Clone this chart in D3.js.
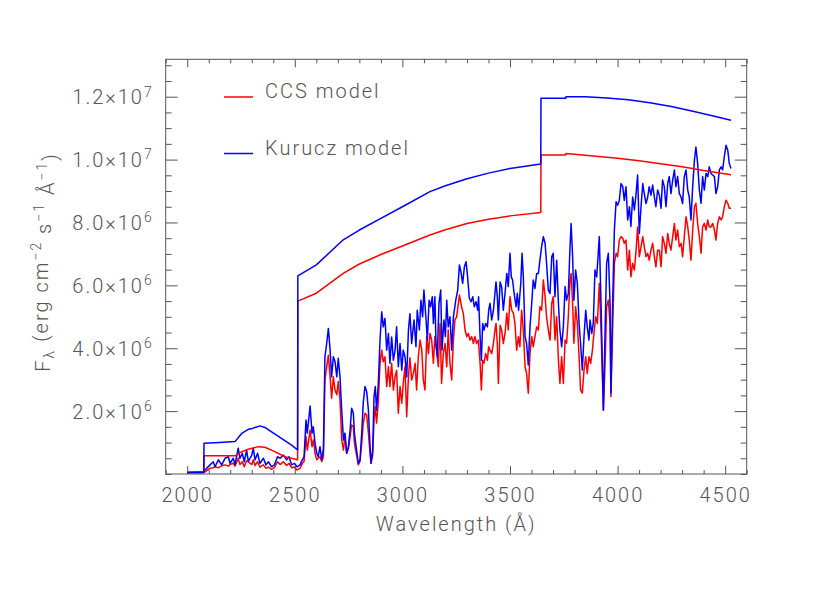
<!DOCTYPE html>
<html>
<head>
<meta charset="utf-8">
<script src="https://cdn.jsdelivr.net/npm/d3@7"></script>
<style>
  body { margin: 0; background: #fff; }
  text { font-family: Roboto, "DejaVu Sans", sans-serif; font-weight: 300; fill: #555; letter-spacing: 2px; }
</style>
</head>
<body>
<div id="chart"></div>
<script>
// flux in units of 1e6 erg cm^-2 s^-1 A^-1, wavelength in A
var ccsSpectrum = [[2000,0.05],[2075,0.05],[2083,0.07],[2106,0.18],[2121,0.20],[2129,0.23],[2145,0.20],[2160,0.26],[2176,0.29],[2191,0.25],[2199,0.30],[2214,0.34],[2222,0.25],[2237,0.50],[2245,0.30],[2256,0.39],[2265,0.23],[2276,0.42],[2284,0.39],[2300,0.30],[2307,0.45],[2315,0.27],[2327,0.39],[2338,0.22],[2354,0.29],[2366,0.18],[2377,0.22],[2392,0.15],[2405,0.20],[2420,0.39],[2432,0.30],[2447,0.39],[2462,0.27],[2473,0.34],[2485,0.20],[2498,0.22],[2510,0.13],[2524,0.18],[2535,0.34],
  [2543,0.40],[2552,1.19],[2558,0.76],[2571,1.40],[2580,0.87],[2586,1.08],[2594,0.66],[2602,0.45],[2609,0.50],[2617,0.55],[2625,0.40],[2633,0.55],[2640,2.99],[2648,3.40],[2656,3.78],[2664,3.09],[2671,2.41],[2679,3.09],[2687,2.67],[2695,2.52],[2702,2.94],[2710,2.36],[2718,1.08],[2726,0.76],[2733,1.19],[2741,0.66],[2749,0.80],[2757,1.19],[2764,1.56],[2772,1.50],[2777,0.98],[2787,0.60],[2795,0.29],[2803,0.40],[2811,0.98],[2818,1.60],[2826,1.93],[2834,1.88],[2842,1.30],[2849,0.70],[2854,0.34],[2862,0.60],[2868,1.72],[2874,2.14],[2880,1.62],[2888,2.30],[2896,3.52],[2904,3.94],[2911,3.57],[2919,3.73],[2927,2.78],[2935,3.41],[2942,2.78],[2950,3.52],[2958,2.67],[2966,3.09],[2973,3.30],[2981,1.93],[2989,2.78],[2997,2.25],[3004,2.88],[3012,3.41],[3020,1.82],[3028,3.09],[3035,3.70],
  [3043,2.99],[3051,3.20],[3059,3.52],[3066,2.67],[3074,3.73],[3082,4.26],[3090,3.94],[3097,2.99],[3105,2.67],[3113,4.37],[3121,3.83],[3128,4.47],[3136,4.26],[3144,3.52],[3151,4.37],[3159,3.94],[3167,3.41],[3175,4.79],[3182,2.88],[3190,3.83],[3198,4.15],[3206,3.41],[3213,4.58],[3221,3.52],[3229,2.99],[3237,4.26],[3244,4.90],[3252,5.00],[3265,5.69],[3275,5.32],[3283,5.11],[3291,4.58],[3299,4.37],[3306,4.47],[3314,4.26],[3322,4.37],[3330,4.15],[3337,4.37],[3345,4.15],[3353,4.26],[3361,3.52],[3367,2.67],[3373,3.62],[3379,3.52],[3387,3.83],[3395,3.62],[3401,4.05],[3407,3.94],[3415,3.83],[3423,4.15],[3430,4.58],[3435,4.79],[3441,4.15],[3446,2.88],[3454,4.73],[3461,4.58],[3469,4.15],[3477,4.47],[3485,5.11],[3492,4.58],[3500,5.64],[3508,5.21],[3516,5.11],[3523,4.79],[3531,3.94],[3539,4.37],[3546,4.05],[3554,5.21],[3562,4.58],[3570,3.41],[3577,3.20],[3585,2.57],[3593,3.83],[3601,4.37],[3608,4.05],[3616,4.37],[3624,4.68],[3632,4.58],[3639,5.32],[3647,5.21],[3655,6.17],
  [3663,5.64],[3670,5.00],[3678,4.58],[3686,4.26],[3694,5.43],[3701,5.64],[3709,4.26],[3717,5.00],[3725,3.62],[3732,2.88],[3740,3.73],[3748,2.88],[3756,4.26],[3763,4.16],[3771,5.00],[3779,6.17],[3784,6.38],[3791,5.43],[3797,4.16],[3805,5.32],[3813,4.79],[3821,3.73],[3828,2.67],[3836,2.57],[3844,3.31],[3852,3.73],[3859,3.20],[3867,3.73],[3875,3.52],[3883,3.94],[3890,4.47],[3898,5.00],[3906,4.79],[3915,6.06],[3923,4.58],[3934,2.03],[3942,3.52],[3949,5.32],[3957,5.53],[3965,4.79],[3969,2.46],[3977,4.58],[3985,6.70],[3993,7.02],[4000,6.91],[4008,7.44],[4016,7.55],[4024,7.50],[4031,7.34],[4039,7.44],[4047,6.49],[4055,7.12],[4062,6.27],[4070,6.70],[4078,6.49],[4086,7.12],[4093,7.86],[4101,6.91],[4109,7.23],[4117,7.55],[4124,7.23],[4132,6.91],[4140,7.02],[4147,6.80],[4155,7.12],[4163,7.34],[4171,6.91],[4178,6.59],[4186,7.12],[4194,7.12],[4202,6.59],[4209,7.55],[4217,7.34],[4225,7.02],[4233,7.65],[4240,7.34],[4248,7.12],[4256,7.55],[4264,7.97],[4271,7.44],[4279,7.76],[4287,7.23],[4295,7.34],[4302,6.91],[4310,7.55],[4318,8.18],[4326,7.86],[4333,7.44],[4341,6.80],[4349,7.76],[4357,8.50],[4364,8.61],[4372,7.97],[4380,7.55],[4388,7.02],[4395,7.86],[4403,7.97],[4411,7.76],[4419,8.08],[4426,7.86],[4434,7.86],[4442,7.97],[4450,7.76],[4457,7.44],[4465,7.97],[4473,8.18],[4481,8.08],[4488,8.18],[4496,8.50],[4504,8.71],[4512,8.61],[4519,8.45],[4527,8.45]];

var kuruczSpectrum = [[2000,0.05],[2075,0.07],[2083,0.13],[2106,0.29],[2121,0.39],[2129,0.23],[2145,0.45],[2160,0.29],[2176,0.50],[2191,0.55],[2199,0.34],[2214,0.50],[2222,0.29],[2237,0.82],[2245,0.50],[2256,0.66],[2265,0.39],[2276,0.76],[2284,0.40],[2300,0.60],[2307,0.82],[2315,0.45],[2327,0.66],[2338,0.34],[2354,0.50],[2366,0.29],[2377,0.39],[2392,0.23],[2405,0.29],[2420,0.55],[2432,0.50],[2447,0.60],[2462,0.45],[2473,0.55],[2485,0.29],[2498,0.34],[2510,0.23],[2524,0.29],[2535,0.45],
  [2543,0.55],[2552,1.72],[2558,1.30],[2571,2.16],[2580,1.30],[2586,1.50],[2594,0.98],[2602,0.66],[2609,0.55],[2617,0.87],[2625,0.45],[2633,0.80],[2640,3.73],[2648,4.15],[2656,4.63],[2664,3.94],[2671,3.09],[2679,3.73],[2687,3.57],[2695,3.09],[2702,3.68],[2710,3.09],[2718,2.03],[2726,1.08],[2733,1.30],[2741,0.66],[2749,0.87],[2757,1.40],[2764,2.09],[2772,1.93],[2777,1.30],[2787,0.76],[2795,0.34],[2803,0.45],[2811,1.30],[2818,2.25],[2826,2.78],[2834,2.62],[2842,2.03],[2849,0.98],[2854,0.34],[2862,0.76],[2868,2.46],[2874,2.78],[2880,2.03],[2888,2.88],[2896,4.26],[2904,5.16],[2911,4.68],[2919,4.95],[2927,3.94],[2935,4.47],[2942,3.52],[2950,4.36],[2958,3.62],[2966,3.94],[2973,4.68],[2981,3.41],[2989,4.15],[2997,3.30],[3004,3.94],[3012,3.73],[3020,3.09],[3028,4.57],[3035,5.10],
  [3043,4.15],[3054,4.90],[3063,4.05],[3069,5.21],[3079,4.58],[3086,5.53],[3094,5.00],[3100,5.85],[3110,4.90],[3116,4.26],[3124,5.53],[3131,5.32],[3139,5.64],[3144,4.79],[3151,5.64],[3156,4.15],[3162,3.73],[3170,5.43],[3178,5.85],[3184,3.94],[3193,4.90],[3200,4.37],[3206,5.53],[3213,4.68],[3221,5.00],[3229,3.94],[3237,5.00],[3248,5.53],[3257,5.85],[3265,6.65],[3272,6.43],[3280,6.06],[3288,6.59],[3296,6.75],[3303,6.27],[3311,5.59],[3319,5.48],[3327,5.64],[3334,5.32],[3342,5.48],[3350,5.21],[3354,5.64],[3361,4.37],[3367,3.62],[3373,4.79],[3379,4.58],[3387,4.79],[3395,4.68],[3401,5.21],[3407,5.43],[3415,4.90],[3423,5.21],[3430,5.75],[3435,6.11],[3441,5.64],[3446,4.90],[3454,6.11],[3461,5.96],[3469,5.21],[3477,5.75],[3485,6.38],[3492,5.96],[3500,7.02],[3506,6.27],[3512,6.17],[3519,5.75],[3528,5.32],[3534,5.75],[3540,5.21],[3550,6.06],[3556,7.02],[3562,6.27],[3570,4.37],[3577,4.15],[3585,3.47],[3593,4.68],[3601,5.43],[3608,6.17],[3616,5.90],[3624,6.38],[3632,6.38],[3639,6.80],[3647,7.23],[3655,7.55],
  [3663,7.34],[3670,6.70],[3678,5.85],[3686,5.74],[3694,6.91],[3701,7.02],[3709,5.64],[3717,6.80],[3725,5.43],[3732,4.58],[3740,4.05],[3748,4.68],[3756,5.96],[3763,5.53],[3771,5.74],[3779,7.23],[3784,7.97],[3791,6.91],[3797,5.53],[3805,6.49],[3813,6.06],[3821,4.79],[3828,4.15],[3836,3.31],[3844,4.37],[3852,5.21],[3859,4.68],[3867,4.26],[3872,4.90],[3880,4.47],[3887,4.79],[3895,6.49],[3903,6.27],[3915,7.55],[3923,5.43],[3934,2.03],[3942,4.58],[3949,6.70],[3957,7.02],[3965,5.43],[3969,2.57],[3977,5.43],[3985,7.76],[3993,8.66],[4000,8.55],[4008,8.70],[4016,9.24],[4024,9.14],[4031,8.70],[4039,9.14],[4047,8.08],[4055,8.50],[4062,7.87],[4070,8.81],[4078,8.40],[4086,8.92],[4093,9.51],[4101,7.65],[4109,8.50],[4117,9.24],[4124,8.92],[4132,8.60],[4140,8.81],[4147,9.14],[4155,8.87],[4163,9.19],[4171,8.81],[4178,8.50],[4186,9.03],[4194,8.87],[4202,8.45],[4209,9.35],[4217,9.14],[4225,8.50],[4233,9.24],[4240,9.46],[4248,8.92],[4256,9.35],[4264,9.67],[4271,9.14],[4279,9.46],[4287,8.92],[4295,8.81],[4302,8.60],[4310,9.46],[4318,9.67],[4326,9.03],[4333,8.81],[4341,8.08],[4349,9.14],[4357,9.98],[4364,10.40],[4372,9.88],[4380,9.03],[4388,8.61],[4395,9.46],[4403,9.03],[4411,9.56],[4419,9.46],[4426,9.77],[4434,9.56],[4442,9.51],[4450,9.46],[4457,8.92],[4465,9.14],[4473,9.67],[4481,9.77],[4488,9.67],[4496,10.09],[4504,10.46],[4512,10.30],[4519,9.88],[4527,9.72]];

var ccsContinuum = [[2000,0.05],[2077,0.05],[2078,0.58],[2222,0.58],[2253,0.71],[2284,0.79],[2330,0.87],[2361,0.85],[2407,0.71],[2454,0.55],[2513,0.45],[2514,5.50],[2600,5.75],[2725,6.38],[2800,6.68],[2900,6.98],[3000,7.25],[3128,7.60],[3200,7.77],[3300,7.97],[3400,8.10],[3500,8.21],[3643,8.32],[3644,10.15],[3759,10.15],[3760,10.19],[3900,10.11],[4000,10.04],[4100,9.96],[4200,9.87],[4300,9.77],[4400,9.65],[4527,9.52]];

var kuruczContinuum = [[2000,0.05],[2077,0.05],[2078,0.98],[2150,1.00],[2222,1.03],[2253,1.29],[2284,1.42],[2303,1.45],[2315,1.48],[2338,1.53],[2361,1.48],[2392,1.34],[2438,1.13],[2485,0.92],[2513,0.77],[2514,6.30],[2600,6.65],[2725,7.45],[2800,7.76],[2900,8.13],[3000,8.50],[3128,8.98],[3200,9.17],[3300,9.39],[3400,9.57],[3500,9.72],[3643,9.86],[3644,11.95],[3759,11.95],[3760,12.00],[3850,12.00],[3950,11.96],[4050,11.90],[4150,11.81],[4250,11.69],[4350,11.54],[4450,11.38],[4527,11.25]];

var xMajor = [2000, 2500, 3000, 3500, 4000, 4500];
var yMajor = [2, 4, 6, 8, 10, 12];
var yMantissa = ["2.0", "4.0", "6.0", "8.0", "1.0", "1.2"];
var yExponent = ["6", "6", "6", "6", "7", "7"];
var legendNames = ["CCS model", "Kurucz model"];
var seriesColors = ["#ff0000", "#0000ff"];

var svgWidth = 830;
var svgHeight = 593;
var plotLeft = 165.7, plotRight = 746.7, plotTop = 59.3, plotBottom = 474;

var x = d3.scaleLinear().domain([1900, 4600]).range([plotLeft, plotRight]);
var y = d3.scaleLinear().domain([0, 13.19]).range([plotBottom, plotTop]);

var xMinor = d3.range(1900, 4601, 100).filter(function (d) { return xMajor.indexOf(d) < 0; });
var yMinor = d3.range(0, 13.2, 0.5).filter(function (d) { return yMajor.indexOf(d) < 0; });

var svg = d3.select("#chart")
    .append("svg")
    .attr("width", svgWidth)
    .attr("height", svgHeight);

var axisColor = "#555";

function clean(g) {
    g.select(".domain").remove();
    g.selectAll("line").attr("stroke", axisColor);
}

// bottom / top axes
svg.append("g").attr("transform", "translate(0," + plotBottom + ")")
    .call(d3.axisBottom(x).tickValues(xMinor).tickSize(-4).tickFormat(""))
    .call(clean);
var xAxis = svg.append("g").attr("transform", "translate(0," + plotBottom + ")")
    .call(d3.axisBottom(x).tickValues(xMajor).tickSize(-8).tickPadding(14).tickFormat(d3.format("d")))
    .call(clean);
xAxis.attr("font-family", null).attr("font-size", null);
xAxis.selectAll("text").attr("font-size", 20).attr("fill", "#555");

svg.append("g").attr("transform", "translate(0," + plotTop + ")")
    .call(d3.axisTop(x).tickValues(xMinor).tickSize(-4).tickFormat(""))
    .call(clean);
svg.append("g").attr("transform", "translate(0," + plotTop + ")")
    .call(d3.axisTop(x).tickValues(xMajor).tickSize(-8).tickFormat(""))
    .call(clean);

// left / right axes
svg.append("g").attr("transform", "translate(" + plotLeft + ",0)")
    .call(d3.axisLeft(y).tickValues(yMinor).tickSize(-6).tickFormat(""))
    .call(clean);
var yAxis = svg.append("g").attr("transform", "translate(" + plotLeft + ",0)")
    .call(d3.axisLeft(y).tickValues(yMajor).tickSize(-12).tickPadding(12).tickFormat(""))
    .call(clean);
yAxis.attr("font-family", null).attr("font-size", null);

yAxis.selectAll(".tick text")
    .attr("font-size", 20)
    .attr("fill", "#555")
    .attr("dy", "0.35em")
    .each(function (d, i) {
        var t = d3.select(this);
        t.append("tspan").text(yMantissa[i] + "\u00d710");
        t.append("tspan").attr("font-size", 14).attr("dy", "-0.55em").text(yExponent[i]);
    });

svg.append("g").attr("transform", "translate(" + plotRight + ",0)")
    .call(d3.axisRight(y).tickValues(yMinor).tickSize(-6).tickFormat(""))
    .call(clean);
svg.append("g").attr("transform", "translate(" + plotRight + ",0)")
    .call(d3.axisRight(y).tickValues(yMajor).tickSize(-12).tickFormat(""))
    .call(clean);

// frame
svg.append("rect")
    .attr("x", plotLeft).attr("y", plotTop)
    .attr("width", plotRight - plotLeft).attr("height", plotBottom - plotTop)
    .attr("fill", "none").attr("stroke", axisColor).attr("stroke-width", 1);

// curves
var line = d3.line()
    .x(function (d) { return x(d[0]); })
    .y(function (d) { return y(d[1]); });

var curves = [
    {data: ccsSpectrum, color: seriesColors[0]},
    {data: kuruczSpectrum, color: seriesColors[1]},
    {data: ccsContinuum, color: seriesColors[0]},
    {data: kuruczContinuum, color: seriesColors[1]}
];

svg.selectAll("path.curve")
    .data(curves)
    .enter()
    .append("path")
    .attr("class", "curve")
    .attr("d", function (d) { return line(d.data); })
    .attr("fill", "none")
    .attr("stroke", function (d) { return d.color; })
    .attr("stroke-width", 1.5)
    .attr("stroke-linejoin", "round");

// legend
var legend = svg.selectAll("g.legend")
    .data(legendNames)
    .enter()
    .append("g")
    .attr("class", "legend")
    .attr("transform", function (d, i) { return "translate(224," + (97 + i * 56.5) + ")"; });

legend.append("line")
    .attr("x1", 0).attr("x2", 29)
    .attr("stroke", function (d, i) { return seriesColors[i]; })
    .attr("stroke-width", 1.5);

legend.append("text")
    .attr("x", 41)
    .attr("y", 1)
    .attr("font-size", 20)
    .text(function (d) { return d; });

// axis titles
svg.append("text")
    .attr("x", (plotLeft + plotRight) / 2)
    .attr("y", 531)
    .attr("text-anchor", "middle")
    .attr("font-size", 20)
    .text("Wavelength (\u00c5)");

var ytitle = svg.append("text")
    .attr("transform", "translate(50,262) rotate(-90)")
    .attr("text-anchor", "middle")
    .attr("font-size", 20);

var titleParts = [
    {t: "F"}, {t: "\u03bb", s: 0.3}, {t: " (erg cm"}, {t: "\u22122", s: -0.5},
    {t: " s"}, {t: "\u22121", s: -0.5}, {t: " \u00c5"}, {t: "\u22121", s: -0.5}, {t: ")"}
];
var shift = 0;
titleParts.forEach(function (p) {
    var target = p.s || 0;
    var ts = ytitle.append("tspan").attr("dy", (target - shift) + "em").text(p.t);
    if (p.s) ts.attr("font-size", 14);
    shift = target;
});
</script>
</body>
</html>
